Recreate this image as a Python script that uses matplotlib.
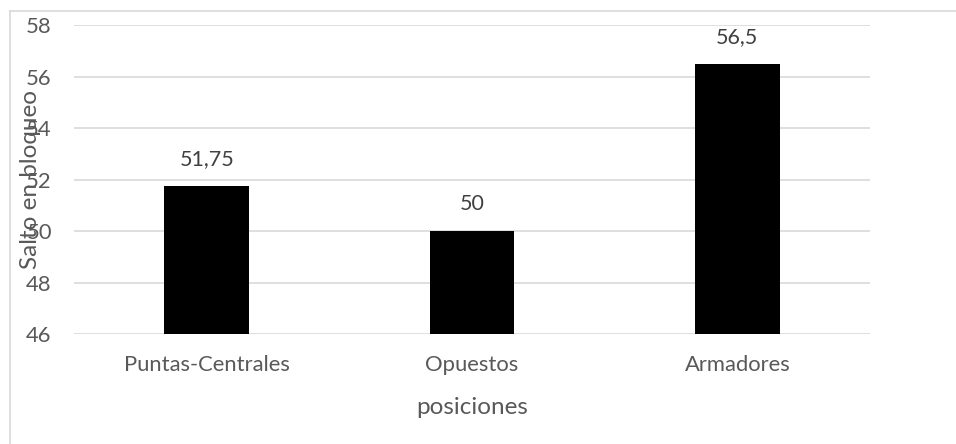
import matplotlib
matplotlib.use("Agg")
import matplotlib.pyplot as plt
from matplotlib.lines import Line2D

categories = ["Puntas-Centrales", "Opuestos", "Armadores"]
values = [51.75, 50, 56.5]
value_labels = ["51,75", "50", "56,5"]
y_ticks = [46, 48, 50, 52, 54, 56, 58]

plt.rcParams["font.family"] = ["Lato", "DejaVu Sans"]
text_color = "#595959"
grid_color = "#d9d9d9"

fig = plt.figure(figsize=(9.56, 4.44), dpi=100)
ax = fig.add_axes([74 / 956, 110 / 444, 796 / 956, 309 / 444])

x = range(len(categories))
ax.bar(x, [v - y_ticks[0] for v in values], bottom=y_ticks[0], width=0.32,
       color="black", zorder=3)
for xi, v, lab in zip(x, values, value_labels):
    ax.annotate(lab, (xi, v), xytext=(0, 12), textcoords="offset points",
                ha="center", va="bottom", fontsize=15.5, color="#404040")

ax.set_xlim(-0.5, 2.5)
ax.set_ylim(y_ticks[0], y_ticks[-1])
ax.set_yticks(y_ticks)
ax.set_yticklabels([str(t) for t in y_ticks])
ax.set_xticks(list(x))
ax.set_xticklabels(categories)
ax.tick_params(axis="both", length=0, labelsize=15.8, labelcolor=text_color)
ax.tick_params(axis="y", pad=16)
ax.tick_params(axis="x", pad=15)
ax.grid(axis="y", color=grid_color, linewidth=1.2, zorder=0)
for s in ax.spines.values():
    s.set_visible(False)

ax.set_ylabel("Salto en bloqueo", fontsize=17.5, color=text_color)
ax.yaxis.set_label_coords(-0.042, 0.5)
ax.set_xlabel("posiciones", fontsize=17.5, color=text_color)
ax.xaxis.set_label_coords(0.5, -0.205)

# chart area border (left and top edges visible)
fig.add_artist(Line2D([10 / 956, 10 / 956], [0, 1 - 11 / 444],
                      color=grid_color, linewidth=1.2))
fig.add_artist(Line2D([10 / 956, 1], [1 - 11 / 444, 1 - 11 / 444],
                      color=grid_color, linewidth=1.2))

fig.savefig("out.png", dpi=100)
